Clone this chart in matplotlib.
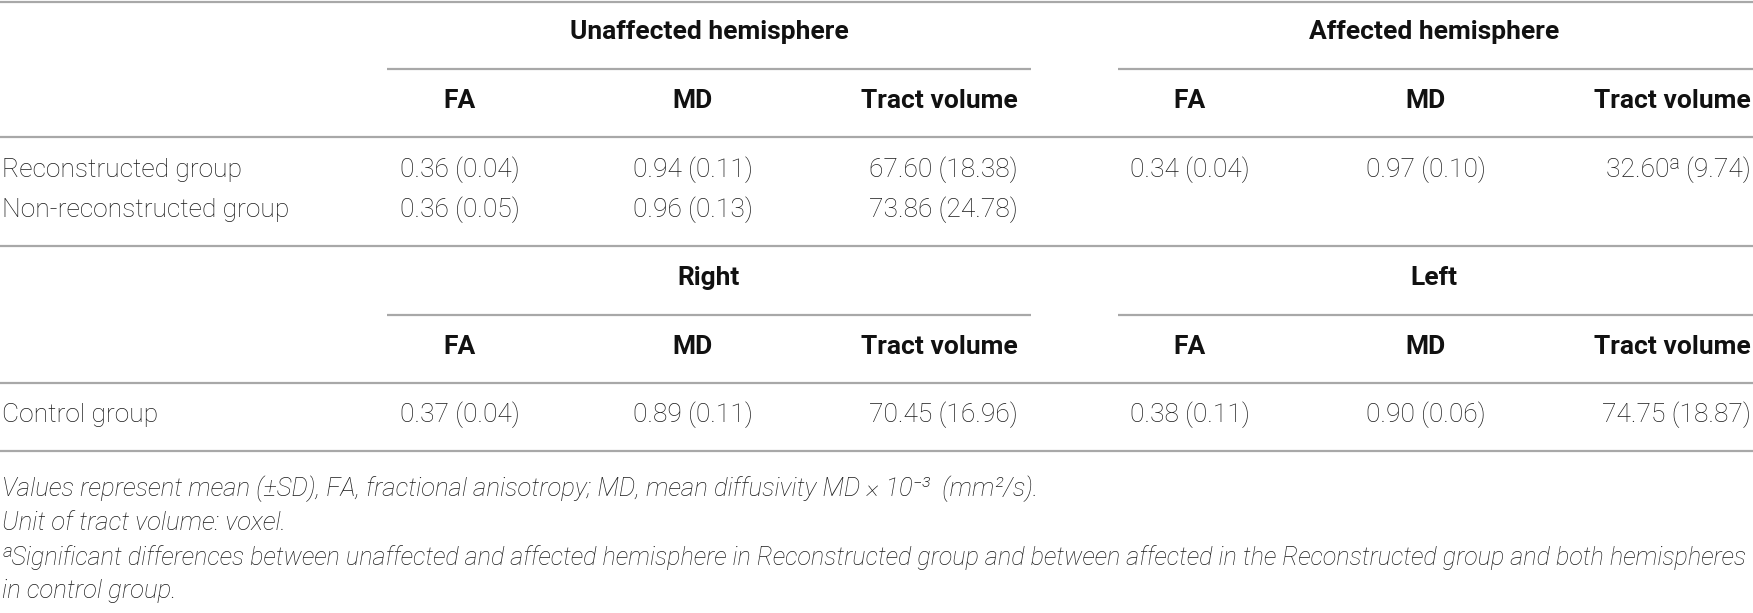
import matplotlib
matplotlib.use("Agg")
import matplotlib.pyplot as plt

# ---- data ----
group_headers_top = ["Unaffected hemisphere", "Affected hemisphere"]
group_headers_bottom = ["Right", "Left"]
sub_headers = ["FA", "MD", "Tract volume"]
patient_rows = ["Reconstructed group", "Non-reconstructed group"]
unaffected_vals = [["0.36 (0.04)", "0.94 (0.11)", "67.60 (18.38)"],
                   ["0.36 (0.05)", "0.96 (0.13)", "73.86 (24.78)"]]
affected_vals = [["0.34 (0.04)", "0.97 (0.10)", "32.60\u1d43 (9.74)"],
                 ["", "", ""]]
control_rows = ["Control group"]
right_vals = [["0.37 (0.04)", "0.89 (0.11)", "70.45 (16.96)"]]
left_vals = [["0.38 (0.11)", "0.90 (0.06)", "74.75 (18.87)"]]
footnotes = [
    "Values represent mean (\u00b1SD), FA, fractional anisotropy; MD, mean diffusivity MD \u00d7 10\u207b\u00b3  (mm\u00b2/s).",
    "Unit of tract volume: voxel.",
    "\u1d43Significant differences between unaffected and affected hemisphere in Reconstructed group and between affected in the Reconstructed group and both hemispheres",
    "in control group.",
]

W, H = 1753, 613
fig = plt.figure(figsize=(W / 100, H / 100), dpi=100)
ax = fig.add_axes([0, 0, 1, 1])
ax.set_xlim(0, W)
ax.set_ylim(H, 0)
ax.axis("off")

FAM = ["Roboto", "DejaVu Sans"]
BODY = dict(family=FAM, fontsize=19, fontweight="light", color="#1a1a1a", va="center")
HEAD = dict(family=FAM, fontsize=19, fontweight="bold", color="#111111", va="center")
FOOT = dict(family=FAM, fontsize=18.5, fontweight="light", style="italic", color="#1a1a1a", va="center")
RULE = dict(color="#a8a8a8", linewidth=1.6)

# column geometry: (align, x)
left_cols = [("center", 460), ("center", 693), ("right", 1018)]
right_cols = [("center", 1190), ("center", 1426), ("right", 1751)]
span_left = (387, 1031)
span_right = (1118, 1753)

def header_block(y_group, y_span, y_sub, names):
    ax.text(sum(span_left) / 2, y_group, names[0], ha="center", **HEAD)
    ax.text(1434, y_group, names[1], ha="center", **HEAD)
    ax.hlines(y_span, *span_left, **RULE)
    ax.hlines(y_span, *span_right, **RULE)
    for (al, x), s in zip(left_cols, sub_headers):
        ax.text(x, y_sub, s, ha=al, **HEAD)
    for (al, x), s in zip(right_cols, sub_headers):
        ax.text(x, y_sub, s, ha=al, **HEAD)

def body_rows(ys, labels, lv, rv):
    for y, lab, l, r in zip(ys, labels, lv, rv):
        ax.text(2, y, lab, ha="left", **BODY)
        for (al, x), s in zip(left_cols, l):
            ax.text(x, y, s, ha=al, **BODY)
        for (al, x), s in zip(right_cols, r):
            ax.text(x, y, s, ha=al, **BODY)

ax.hlines(1.5, 0, W, **RULE)
header_block(32, 69, 101, group_headers_top)
ax.hlines(137, 0, W, **RULE)
body_rows([170, 210], patient_rows, unaffected_vals, affected_vals)
ax.hlines(246, 0, W, **RULE)
header_block(278, 315, 347, group_headers_bottom)
ax.hlines(383, 0, W, **RULE)
body_rows([415], control_rows, right_vals, left_vals)
ax.hlines(451, 0, W, **RULE)

renderer = fig.canvas.get_renderer()
for y, s in zip([489, 523, 558, 591], footnotes):
    t = ax.text(2, y, s, ha="left", **FOOT)
    bb = t.get_window_extent(renderer=renderer)
    if bb.x1 > W - 2:
        # shrink the long footnote so that it fits the table width
        t.set_fontsize(FOOT["fontsize"] * (W - 4) / bb.x1)

fig.savefig("out.png", dpi=100)
